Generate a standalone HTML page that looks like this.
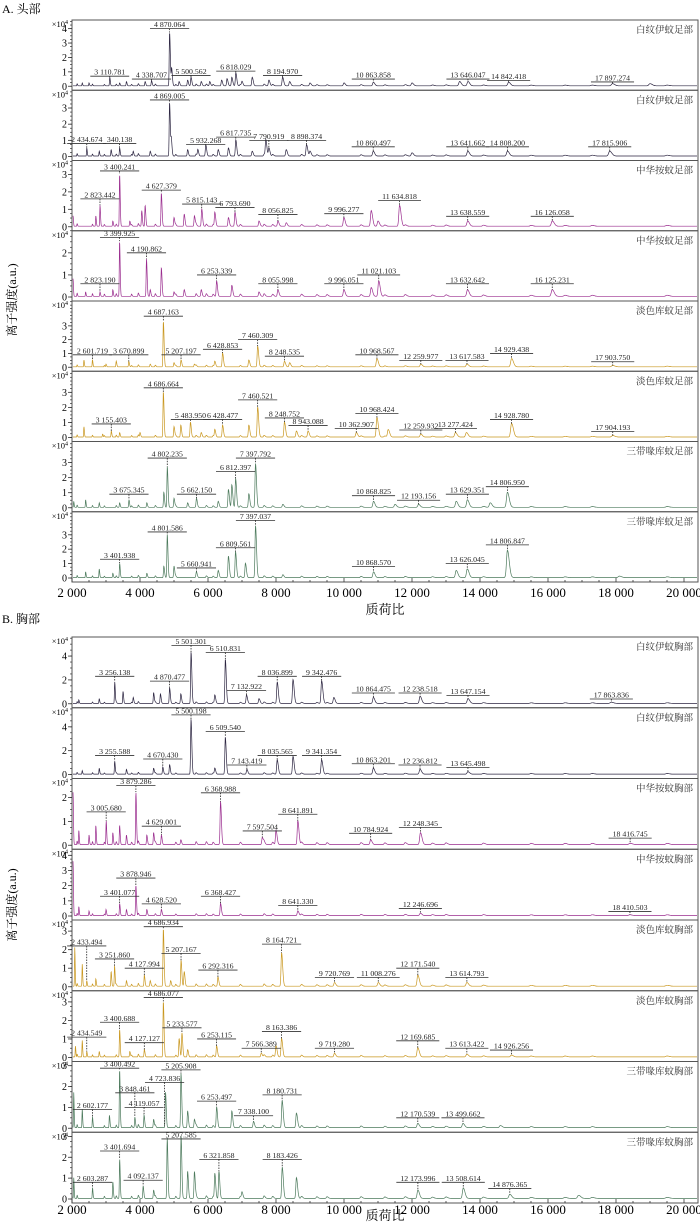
<!DOCTYPE html>
<html><head><meta charset="utf-8">
<style>
html,body{margin:0;padding:0;background:#fff;}
svg{display:block;font-family:"Liberation Serif","Noto Serif CJK SC","Noto Sans CJK SC",serif;}
</style></head>
<body>
<svg id="chart" width="700" height="1223" viewBox="0 0 700 1223" xmlns="http://www.w3.org/2000/svg">
<text x="2" y="13" font-size="12">A. 头部</text>
<text x="2" y="623" font-size="12">B. 胸部</text>
<text transform="translate(16,300) rotate(-90)" text-anchor="middle" font-size="12">离子强度(a.u.)</text>
<text transform="translate(16,905) rotate(-90)" text-anchor="middle" font-size="12">离子强度(a.u.)</text>
<text x="385" y="614" text-anchor="middle" font-size="13">质荷比</text>
<text x="385" y="1220" text-anchor="middle" font-size="13">质荷比</text>
<g id="plots"></g>
</svg>
<script>
// ---- data ----
const xTicks = [2000,4000,6000,8000,10000,12000,14000,16000,18000,20000];
const xTickLabels = ["2 000","4 000","6 000","8 000","10 000","12 000","14 000","16 000","18 000","20 000"];
const panelNames = ["白纹伊蚊足部","白纹伊蚊足部","中华按蚊足部","中华按蚊足部","淡色库蚊足部","淡色库蚊足部","三带喙库蚊足部","三带喙库蚊足部",
 "白纹伊蚊胸部","白纹伊蚊胸部","中华按蚊胸部","中华按蚊胸部","淡色库蚊胸部","淡色库蚊胸部","三带喙库蚊胸部","三带喙库蚊胸部"];
const panelYMax = [4.6,4.1,3.8,3.0,4.8,4.4,4.4,4.6, 5.6,5.6,2.8,4.4,3.6,3.6,3.2,3.2];
const panelYTicks = [[0,1,2,3,4],[0,1,2,3],[0,1,2,3],[0,1,2],[0,1,2,3],[0,1,2,3],[0,1,2,3],[0,1,2,3],
 [0,2,4],[0,2,4],[0,1,2],[0,1,2,3,4],[0,1,2,3],[0,1,2,3],[0,1,2,3],[0,1,2,3]];
// peaks: [m/z, intensity x10^4]
const peaksA1 = [[2300,0.2],[2500,0.2],[3110,0.6],[3400,0.2],[3600,0.3],[4150,0.3],[4338,0.35],[4870,3.7],[4930,1.2],[5150,0.3],[5400,0.4],[5500,0.6],[5800,0.3],[6050,0.3],[6400,0.4],[6560,0.5],[6700,0.6],[6818,0.9],[7000,0.3],[7300,0.6],[7790,0.4],[8194,0.6],[8400,0.3],[9000,0.2],[10000,0.2],[10863,0.25],[12000,0.2],[13400,0.3],[13646,0.3],[14842,0.25],[17897,0.15],[19000,0.15]];
const peaksA2 = [[2434,0.5],[2800,0.3],[3150,0.4],[3400,0.5],[3800,0.3],[4300,0.3],[4869,3.3],[4920,1.0],[5400,0.4],[5700,0.4],[5932,0.6],[6300,0.4],[6600,0.5],[6817,1.0],[7300,0.3],[7700,1.0],[7790,0.5],[8300,0.4],[8898,0.7],[9000,0.3],[10860,0.3],[12000,0.2],[13641,0.3],[14808,0.3],[17815,0.3]];
const peaksA3 = [[2030,0.6],[2700,0.6],[2823,1.2],[3200,0.3],[3400,3.0],[3700,0.3],[4050,0.9],[4150,1.2],[4627,1.9],[5000,0.5],[5300,0.7],[5600,0.6],[5815,1.0],[6200,0.8],[6600,0.5],[6793,0.8],[7500,0.3],[8056,0.3],[8300,0.2],[9996,0.5],[10800,0.9],[11000,0.3],[11634,1.2],[13638,0.3],[16126,0.3]];
const peaksA4 = [[2030,0.8],[2400,0.2],[2823,0.2],[3200,0.3],[3399,2.5],[4190,1.7],[4300,0.3],[4627,1.3],[5000,0.2],[5300,0.3],[5800,0.3],[6253,0.7],[6700,0.5],[7500,0.2],[8055,0.3],[9996,0.3],[10800,0.4],[11021,0.7],[13632,0.3],[16125,0.3]];
const peaksA5 = [[2350,0.5],[2601,0.4],[3000,0.2],[3300,0.3],[3670,0.4],[4300,0.2],[4687,3.3],[5000,0.3],[5207,0.5],[5600,0.2],[6200,0.4],[6428,1.0],[7200,0.5],[7460,1.5],[8248,0.4],[8400,0.3],[10968,0.6],[12259,0.2],[13617,0.2],[14929,0.6],[17903,0.1]];
const peaksA6 = [[2350,0.7],[2900,0.2],[3155,0.4],[3400,0.3],[4000,0.3],[4686,3.0],[5000,0.7],[5200,0.8],[5483,1.0],[5800,0.3],[6200,0.5],[6428,0.8],[7200,0.8],[7460,2.0],[8248,1.0],[8600,0.4],[8943,0.4],[10362,0.3],[10968,1.3],[11300,0.5],[12259,0.2],[13277,0.3],[13600,0.3],[14928,0.9],[17904,0.1]];
const peaksA7 = [[2050,0.4],[2400,0.5],[2800,0.3],[3400,0.3],[3675,0.5],[4200,0.3],[4700,1.0],[4802,2.7],[5000,0.6],[5400,0.3],[5662,0.5],[6300,0.4],[6600,1.2],[6700,1.5],[6812,1.9],[7200,0.9],[7397,2.9],[8200,0.2],[10868,0.4],[11500,0.2],[12193,0.2],[13300,0.4],[13629,0.5],[14300,0.3],[14806,1.0]];
const peaksA8 = [[2400,0.4],[2800,0.6],[3200,0.3],[3401,1.0],[4200,0.3],[4700,0.8],[4801,3.0],[5000,0.8],[5660,0.3],[6300,0.5],[6600,1.5],[6809,1.8],[7100,1.0],[7397,3.6],[8200,0.2],[10868,0.4],[13300,0.5],[13626,0.6],[14806,1.9],[18100,0.1]];
const peaksB1 = [[2200,0.3],[2800,0.4],[3256,1.8],[3500,1.0],[3800,0.5],[4400,0.9],[4600,0.8],[4870,1.3],[5200,0.8],[5501,4.3],[6200,0.7],[6510,3.7],[7132,0.7],[7500,0.4],[8036,1.8],[8500,2.0],[9342,1.9],[9700,0.5],[10864,0.5],[12238,0.6],[13647,0.4],[17863,0.1]];
const peaksB2 = [[2300,0.3],[2800,0.5],[3255,1.1],[3600,0.4],[4400,0.5],[4670,0.6],[4870,0.8],[5500,4.6],[6200,0.5],[6509,3.1],[7143,0.4],[8035,1.2],[8500,1.5],[9341,1.2],[10863,0.5],[12236,0.4],[13645,0.2]];
const peaksB3 = [[2030,2.2],[2200,0.6],[2500,0.4],[2700,0.8],[3005,1.0],[3200,0.5],[3400,0.8],[3600,0.4],[3879,2.2],[4200,0.4],[4400,0.5],[4629,0.4],[5200,0.2],[6368,1.8],[7597,0.3],[8000,0.6],[8641,1.0],[10784,0.2],[12248,0.5],[18416,0.05]];
const peaksB4 = [[2030,3.6],[2200,0.6],[2500,0.3],[3000,0.4],[3401,0.8],[3600,0.4],[3878,2.0],[4200,0.4],[4628,0.4],[6368,0.8],[8641,0.3],[12246,0.15],[18410,0.05]];
const peaksB5 = [[2080,2.1],[2300,1.2],[2433,0.3],[2700,0.4],[3150,0.8],[3251,1.1],[3600,0.3],[4127,0.6],[4300,0.3],[4686,3.1],[4900,0.3],[5207,1.4],[5300,0.8],[6292,0.5],[8164,1.8],[9720,0.2],[11008,0.2],[12171,0.6],[13614,0.2]];
const peaksB6 = [[2100,0.6],[2300,0.9],[2434,0.3],[2800,0.3],[3400,1.5],[3700,0.3],[4127,0.4],[4686,3.0],[5150,1.0],[5233,1.3],[5400,0.4],[6253,0.6],[7566,0.2],[8000,0.6],[8163,1.0],[9719,0.2],[12169,0.5],[13613,0.15],[14926,0.1]];
const peaksB7 = [[2050,1.7],[2300,0.9],[2602,0.4],[3100,0.6],[3400,2.8],[3848,0.5],[4119,0.6],[4400,0.4],[4750,1.7],[5205,2.6],[5400,0.8],[5600,0.4],[6253,1.0],[6700,0.8],[7338,0.3],[8180,1.3],[8600,0.7],[12170,0.2],[13499,0.2],[14600,0.1]];
const peaksB8 = [[2050,1.0],[2603,0.4],[3200,0.8],[3401,1.9],[4092,0.6],[4400,0.4],[4800,2.9],[5207,3.0],[5400,1.3],[5600,1.3],[6200,1.2],[6321,1.3],[7000,0.3],[8183,1.5],[8600,1.0],[12173,0.4],[13508,0.5],[14876,0.2],[16900,0.15]];
const minorPeaks = [[2150,0.15],[2600,0.12],[2950,0.1],[3300,0.12],[3750,0.1],[3950,0.15],[4450,0.12],[5050,0.1],[5650,0.12],[5950,0.12],[6150,0.1],[6950,0.1],[7650,0.12],[7900,0.1],[8750,0.1],[9200,0.08],[9500,0.08],[10500,0.08],[11200,0.07],[11800,0.08],[12600,0.06],[13000,0.07],[14100,0.06],[15500,0.05],[16500,0.05],[17300,0.05],[19500,0.05]];
// labels: [text, m/z, line level x10^4, dashed]
const labelsA1 = [["3 110.781",3110,0.7,0],["4 338.707",4338,0.5,0],["4 870.064",4870,4.0,0],["5 500.562",5500,0.75,0],["6 818.029",6818,1.05,0],["8 194.970",8194,0.75,0],["10 863.858",10863,0.5,0],["13 646.047",13646,0.5,0],["14 842.418",14842,0.4,0],["17 897.274",17897,0.3,0]];
const labelsA2 = [["2 434.674",2434,0.8,0],["340.138",3400,0.8,0],["4 869.005",4869,3.5,0],["5 932.268",5932,0.75,0],["6 817.735",6817,1.2,0],["7 790.919",7790,1.0,1],["8 898.374",8898,1.0,0],["10 860.497",10860,0.6,0],["13 641.662",13641,0.6,0],["14 808.200",14808,0.6,0],["17 815.906",17815,0.6,0]];
const labelsA3 = [["2 823.442",2823,1.6,0],["3 400.241",3400,3.2,0],["4 627.379",4627,2.1,0],["5 815.143",5815,1.3,0],["6 793.690",6793,1.1,0],["8 056.825",8056,0.7,0],["9 996.277",9996,0.75,0],["11 634.818",11634,1.5,0],["13 638.559",13638,0.6,0],["16 126.058",16126,0.6,0]];
const labelsA4 = [["2 823.190",2823,0.6,1],["3 399.925",3399,2.7,0],["4 190.862",4190,2.0,0],["6 253.339",6253,1.0,0],["8 055.998",8055,0.6,0],["9 996.051",9996,0.6,0],["11 021.103",11021,1.0,0],["13 632.642",13632,0.6,0],["16 125.231",16125,0.6,0]];
const labelsA5 = [["2 601.719",2601,0.9,1],["3 670.899",3670,0.9,0],["4 687.163",4687,3.7,0],["5 207.197",5207,0.9,0],["6 428.853",6428,1.3,0],["7 460.309",7460,2.0,0],["8 248.535",8248,0.8,0],["10 968.567",10968,0.9,0],["12 259.977",12259,0.5,0],["13 617.583",13617,0.5,0],["14 929.438",14929,1.0,0],["17 903.750",17903,0.4,0]];
const labelsA6 = [["3 155.403",3155,0.9,0],["4 686.664",4686,3.3,0],["5 483.950",5483,1.2,0],["6 428.477",6428,1.2,0],["7 460.521",7460,2.5,0],["8 248.752",8248,1.3,0],["8 943.088",8943,0.8,1],["10 362.907",10362,0.6,0],["10 968.424",10968,1.6,0],["12 259.932",12259,0.5,0],["13 277.424",13277,0.6,0],["14 928.780",14928,1.2,0],["17 904.193",17904,0.4,0]];
const labelsA7 = [["3 675.345",3675,0.9,0],["4 802.235",4802,3.3,0],["5 662.150",5662,0.9,0],["6 812.397",6812,2.4,0],["7 397.792",7397,3.3,0],["10 868.825",10868,0.8,0],["12 193.156",12193,0.5,0],["13 629.351",13629,0.9,0],["14 806.950",14806,1.4,0]];
const labelsA8 = [["3 401.938",3401,1.3,0],["4 801.586",4801,3.2,0],["5 660.941",5660,0.7,0],["6 809.561",6809,2.1,0],["7 397.037",7397,4.0,0],["10 868.570",10868,0.8,0],["13 626.045",13626,1.0,0],["14 806.847",14806,2.3,0]];
const labelsB1 = [["3 256.138",3256,2.3,0],["4 870.477",4870,1.9,0],["5 501.301",5501,4.9,0],["6 510.831",6510,4.3,0],["7 132.922",7132,1.1,0],["8 036.899",8036,2.3,0],["9 342.476",9342,2.3,0],["10 864.475",10864,0.9,0],["12 238.518",12238,0.9,0],["13 647.154",13647,0.7,0],["17 863.836",17863,0.4,0]];
const labelsB2 = [["3 255.588",3255,1.6,0],["4 670.430",4670,1.3,0],["5 500.198",5500,5.0,0],["6 509.540",6509,3.6,0],["7 143.419",7143,0.8,0],["8 035.565",8035,1.6,0],["9 341.354",9341,1.6,0],["10 863.201",10863,0.9,0],["12 236.812",12236,0.8,0],["13 645.498",13645,0.6,0]];
const labelsB3 = [["3 005.680",3005,1.4,0],["3 879.286",3879,2.5,0],["4 629.001",4629,0.8,0],["6 368.988",6368,2.2,0],["7 597.504",7597,0.6,0],["8 641.891",8641,1.3,0],["10 784.924",10784,0.5,0],["12 248.345",12248,0.75,0],["18 416.745",18416,0.3,0]];
const labelsB4 = [["3 401.077",3401,1.3,0],["3 878.946",3878,2.5,0],["4 628.520",4628,0.8,0],["6 368.427",6368,1.3,0],["8 641.330",8641,0.7,0],["12 246.696",12246,0.5,0],["18 410.503",18410,0.3,0]];
const labelsB5 = [["2 433.494",2433,2.2,1],["3 251.860",3251,1.5,0],["4 127.994",4127,1.0,0],["4 686.934",4686,3.3,0],["5 207.167",5207,1.8,0],["6 292.316",6292,0.9,0],["8 164.721",8164,2.3,0],["9 720.769",9720,0.5,0],["11 008.276",11008,0.5,0],["12 171.540",12171,1.0,0],["13 614.793",13614,0.5,0]];
const labelsB6 = [["2 434.549",2434,1.1,1],["3 400.688",3400,1.9,0],["4 127.127",4127,0.8,0],["4 686.077",4686,3.3,0],["5 233.577",5233,1.6,0],["6 253.115",6253,1.0,0],["7 566.389",7566,0.5,0],["8 163.386",8163,1.4,0],["9 719.280",9719,0.5,0],["12 169.685",12169,0.9,0],["13 613.422",13613,0.5,0],["14 926.256",14926,0.4,0]];
const labelsB7 = [["2 602.177",2602,0.9,1],["3 400.492",3400,3.0,0],["3 848.461",3848,1.7,1],["4 119.057",4119,1.0,0],["4 723.836",4723,2.2,1],["5 205.908",5205,2.8,0],["6 253.497",6253,1.3,0],["7 338.100",7338,0.6,0],["8 180.731",8180,1.6,0],["12 170.539",12170,0.5,0],["13 499.662",13499,0.5,0]];
const labelsB8 = [["2 603.287",2603,0.8,0],["3 401.694",3401,2.3,0],["4 092.137",4092,0.9,0],["5 207.585",5207,3.2,0],["6 321.858",6321,1.9,0],["8 183.426",8183,1.9,0],["12 173.996",12173,0.8,0],["13 508.614",13508,0.8,0],["14 876.365",14876,0.5,0]];

const allPeaks = [peaksA1,peaksA2,peaksA3,peaksA4,peaksA5,peaksA6,peaksA7,peaksA8,peaksB1,peaksB2,peaksB3,peaksB4,peaksB5,peaksB6,peaksB7,peaksB8];
const allLabels = [labelsA1,labelsA2,labelsA3,labelsA4,labelsA5,labelsA6,labelsA7,labelsA8,labelsB1,labelsB2,labelsB3,labelsB4,labelsB5,labelsB6,labelsB7,labelsB8];

// ---- layout ----
const X0 = 72, X1 = 698, MZ0 = 2000, PXPER = 68/2000;
const colors = ["#2b2440","#2b2440","#9a2c8e","#9a2c8e","#c9971f","#c9971f","#4c7a5c","#4c7a5c"];
const NS = "http://www.w3.org/2000/svg";
const gRoot = document.getElementById("plots");
function xs(mz){ return X0 + (mz - MZ0) * PXPER; }
function mk(tag, attrs, parent){ const e = document.createElementNS(NS, tag); for (const k in attrs) e.setAttribute(k, attrs[k]); (parent||gRoot).appendChild(e); return e; }
function spec(peaks, mz){
  let v = 0.03;
  const all = peaks.concat(minorPeaks);
  for (const p of all){
    const s = 3 + p[0]*0.0016; const d = mz - p[0];
    const w = d > 0 ? s*2.0 : s;
    if (Math.abs(d) < w*5) v += p[1]*Math.exp(-0.5*(d/w)*(d/w));
  }
  return v;
}

function drawPanel(i){
  const sec = i < 8 ? 0 : 1;
  const k = i % 8;
  const top = sec === 0 ? 20 + k*70.25 : 637 + k*70.75;
  const h = sec === 0 ? 70.25 : 70.75;
  const zeroY = top + h - 4;
  const ymax = panelYMax[i];
  const ys = v => zeroY - v * (zeroY - top) / ymax;
  const col = colors[k];
  const g = mk("g", {});
  
  
  const fr = mk("rect", {x:X0, y:top, width:X1-X0, height:h, fill:"none", stroke:"#555", "stroke-width":"1"}, g);
  
  
  const peaks = allPeaks[i];
  let d = "";
  for (let px = X0+1; px <= X1-1; px += 0.25){
    const mz = MZ0 + (px - X0) / PXPER;
    const v = Math.min(spec(peaks, mz), ymax*0.99);
    d += (d ? "L" : "M") + px.toFixed(2) + "," + ys(v).toFixed(1);
  }
  const line = mk("path", {d:d, fill:"none", stroke:col, "stroke-width":"0.7"}, g);
  
  
  const ticks = panelYTicks[i];
  const step = ticks.length > 1 ? ticks[1]-ticks[0] : 1;
  for (let t = 0; t <= ymax; t += step/4){
    const y = ys(t);
    mk("line", {x1:X0-2, x2:X0, y1:y, y2:y, stroke:"#333", "stroke-width":"0.7"}, g);
  }
  ticks.forEach(t => {
    const y = ys(t);
    mk("line", {x1:X0-4, x2:X0, y1:y, y2:y, stroke:"#333", "stroke-width":"0.8"}, g);
    const tl = mk("text", {x:X0-5, y:y+3.5, "text-anchor":"end", "font-size":"10"}, g);
    tl.textContent = String(t);
    
    
  });
  const ex = mk("text", {x:X0-4, y:top+7, "text-anchor":"end", "font-size":"8.5"}, g);
  ex.innerHTML = '×10<tspan font-size="6" dy="-3">4</tspan>';
  
  
  const nm = mk("text", {x:X1-5, y:top+13, "text-anchor":"end", "font-size":"9.5", fill:"#333"}, g);
  nm.textContent = panelNames[i];
  
  
  allLabels[i].forEach(L => {
    const x = xs(L[1]);
    const lvl = Math.min(L[2], ymax - 0.4*ymax/4);
    const ly = ys(lvl);
    const t = mk("text", {x:x, y:ly-1.5, "text-anchor":"middle", "font-size":"7.8", fill:"#222"}, g);
    t.textContent = L[0];
    
    
    let w = L[0].length * 3.9 + 6;
    try { const cl = t.getComputedTextLength(); if (cl > 0) w = cl + 8; } catch(e){}
    const ul = mk("line", {x1:x-w/2, x2:x+w/2, y1:ly, y2:ly, stroke:"#333", "stroke-width":"0.8"}, g);
    
    
    const pv = Math.min(spec(peaks, L[1]), ymax*0.99);
    const py = ys(pv);
    if (py > ly + 1){
      const tk = mk("line", {x1:x, x2:x, y1:ly, y2:py, stroke:"#222", "stroke-width":"0.8", "stroke-dasharray":"1.5,1.2"}, g);
      
      
    }
  });
  return {top, h};
}

for (let i = 0; i < 16; i++) drawPanel(i);

[[20+8*70.25, 597],[637+8*70.75, 1214]].forEach((a, si) => {
  const ay = a[0];
  const g = mk("g", {});
  
  
  for (let m = 2000; m <= 20400; m += 500){
    const x = xs(m);
    const major = m % 2000 === 0;
    mk("line", {x1:x, x2:x, y1:ay, y2:ay-(major?4:2), stroke:"#333", "stroke-width":"0.8"}, g);
  }
  xTicks.forEach((m, j) => {
    const t = mk("text", {x:xs(m), y:a[1], "text-anchor":"middle", "font-size":"13"}, g);
    t.textContent = xTickLabels[j];
    
    
  });
});
</script>
</body></html>
